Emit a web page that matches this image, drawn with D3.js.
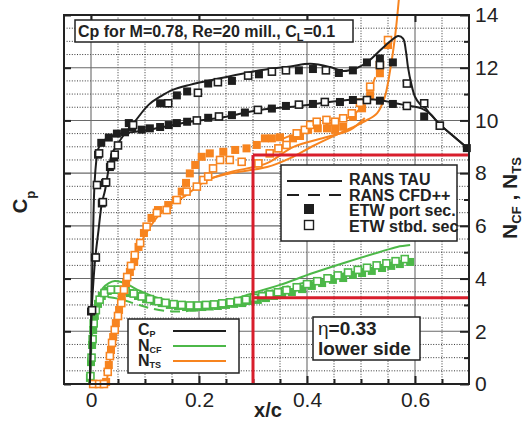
<!DOCTYPE html>
<head>
<meta charset="utf-8">
<style>
body { margin: 0; background: #fff; }
svg { font-family: "Liberation Sans", Arial, sans-serif; }
.grid-minor line { stroke: #222; stroke-dasharray: 1,1.6; stroke-width: 0.9; }
.grid-major line { stroke: #6a6a6a; stroke-width: 1.1; }
.axis path { display: none; }
.axis line { stroke: #222; stroke-width: 2; }
.axis text { font-size: 21px; fill: #222; }
.box { fill: #fff; stroke: #222; stroke-width: 1.5; }
.lbl { font-weight: bold; fill: #222; }
</style>
<script src="https://d3js.org/d3.v7.min.js"></script>
</head>
<body>
<svg width="531" height="421"></svg>
<script>

// ---- data (x/c, value) ----
var xTicks = [0, 0.2, 0.4, 0.6],
    xTickLabels = ["0", "0.2", "0.4", "0.6"],
    nTicks = [0, 2, 4, 6, 8, 10, 12, 14];

// Cp, RANS TAU (two branches)
var cpTauA = [[-0.002,1.0],[0,0.59],[0.002,0.21],[0.004,-0.17],[0.006,-0.47],[0.009,-0.66],[0.013,-0.78],
  [0.019,-0.83],[0.028,-0.86],[0.044,-0.89],[0.072,-0.91],[0.109,-0.93],[0.146,-0.96],[0.183,-0.99],
  [0.239,-1.02],[0.313,-1.08],[0.387,-1.11],[0.461,-1.15],[0.507,-1.16],[0.535,-1.155],[0.563,-1.13],
  [0.591,-1.11],[0.613,-1.09],[0.628,-1.05],[0.646,-0.97],[0.674,-0.87],[0.70,-0.78]];
var cpTauB = [[-0.002,1.0],[0.001,0.46],[0.004,0.25],[0.008,0.04],[0.014,-0.17],[0.020,-0.37],[0.026,-0.47],
  [0.033,-0.64],[0.039,-0.75],[0.048,-0.81],[0.059,-0.88],[0.079,-0.98],[0.107,-1.12],[0.128,-1.18],
  [0.150,-1.23],[0.183,-1.27],[0.239,-1.32],[0.313,-1.38],[0.369,-1.41],[0.406,-1.43],[0.443,-1.405],
  [0.467,-1.375],[0.493,-1.40],[0.511,-1.44],[0.535,-1.53],[0.554,-1.60],[0.569,-1.64],[0.578,-1.62],
  [0.583,-1.53],[0.587,-1.405],[0.593,-1.28],[0.600,-1.18],[0.609,-1.125],[0.619,-1.094],[0.628,-1.05],
  [0.646,-0.97],[0.674,-0.87],[0.70,-0.78]];
var cpPort = [[0,0.45],[0.007,0.04],[0.020,-0.37],[0.026,-0.525],[0.035,-0.646],[0.043,-0.72],[0.013,-0.74],
  [0.019,-0.83],[0.033,-0.87],[0.048,-0.90],[0.063,-0.91],[0.076,-0.95],[0.094,-0.93],[0.109,-0.94],
  [0.128,-0.95],[0.144,-0.965],[0.159,-0.98],[0.178,-0.99],[0.217,-1.02],[0.261,-1.04],[0.285,-1.06],
  [0.335,-1.09],[0.361,-1.11],[0.411,-1.125],[0.461,-1.14],[0.485,-1.155],[0.535,-1.15],[0.559,-1.125],
  [0.617,-1.03],[0.646,-0.96],[0.696,-0.79],
  [0.070,-0.98],[0.128,-1.13],[0.159,-1.19],[0.178,-1.22],[0.217,-1.28],[0.261,-1.30],[0.311,-1.35],
  [0.385,-1.38],[0.411,-1.39],[0.459,-1.36],[0.485,-1.38],[0.511,-1.44],[0.535,-1.47],[0.559,-1.44]];
var cpStbd = [[0.002,0.44],[0.009,0.04],[0.022,-0.38],[0.011,-0.51],[0.028,-0.53],[0.037,-0.66],[0.044,-0.74],
  [0.050,-0.81],[0.015,-0.75],[0.078,-0.965],[0.143,-1.13],[0.198,-1.21],[0.235,-1.29],[0.291,-1.34],
  [0.335,-1.37],[0.361,-1.38],[0.435,-1.38],[0.535,-1.42],[0.585,-1.28],[0.617,-1.13],[0.646,-0.96],
  [0.196,-1.00],[0.237,-1.03],[0.309,-1.08],[0.385,-1.12],[0.433,-1.14],[0.511,-1.155],[0.585,-1.11]];

// N_CF
var ncfTau = [[-0.004,0],[-0.002,0.34],[0,1.10],[0.002,1.86],[0.005,2.50],[0.009,3.00],[0.015,3.38],
  [0.022,3.64],[0.033,3.83],[0.044,3.91],[0.056,3.87],[0.069,3.76],[0.091,3.53],[0.115,3.32],[0.141,3.17],
  [0.170,3.07],[0.202,3.07],[0.231,3.11],[0.263,3.22],[0.294,3.41],[0.319,3.57],[0.35,3.76],[0.411,4.21],
  [0.474,4.63],[0.535,5.01],[0.567,5.20],[0.591,5.27]];
var ncfCfd = [[0.031,3.30],[0.054,3.22],[0.081,3.05],[0.109,2.88],[0.152,2.75],[0.189,2.79],[0.226,2.90],
  [0.276,3.19],[0.317,3.45],[0.369,3.72],[0.424,3.98],[0.480,4.25],[0.535,4.51],[0.591,4.74]];
var ncfPort = [[-0.002,0.23],[0,0.83],[0.002,1.48],[0.004,2.05],[0.007,2.58],[0.013,3.04],[0.020,3.34],
  [0.031,3.53],[0.044,3.57],[0.057,3.53],[0.072,3.45],[0.087,3.34],[0.102,3.22],[0.117,3.15],[0.131,3.07],
  [0.146,3.00],[0.161,2.96],[0.176,2.92],[0.191,2.90],[0.206,2.92],[0.220,2.94],[0.235,2.96],[0.250,3.00],
  [0.265,3.04],[0.280,3.07],[0.294,3.15],[0.309,3.19],[0.324,3.26],[0.339,3.34],[0.354,3.41],[0.372,3.49],
  [0.391,3.60],[0.409,3.72],[0.428,3.83],[0.448,3.95],[0.467,4.02],[0.485,4.14],[0.502,4.21],[0.520,4.29],
  [0.539,4.40],[0.556,4.48],[0.572,4.55],[0.591,4.63]];
var ncfStbd = [[-0.001,0.3],[0.001,1.0],[0.003,1.7],[0.005,2.3],[0.009,2.8],[0.016,3.2],[0.025,3.45],
  [0.037,3.58],[0.05,3.58],[0.064,3.52],[0.079,3.43],[0.094,3.32],[0.109,3.22],[0.124,3.14],[0.138,3.08],
  [0.153,3.03],[0.168,3.0],[0.183,2.98],[0.198,2.98],[0.213,3.0],[0.228,3.02],[0.243,3.06],[0.258,3.1],
  [0.272,3.15],[0.287,3.2],[0.302,3.27],[0.317,3.33],[0.331,3.4],[0.346,3.48],[0.362,3.56],[0.381,3.67],
  [0.4,3.79],[0.419,3.9],[0.438,4.01],[0.457,4.12],[0.476,4.23],[0.494,4.33],[0.511,4.41],[0.529,4.5],
  [0.547,4.58],[0.564,4.66],[0.581,4.74]];

// N_TS
var ntsTau = [[0.002,0],[0.026,0],[0.031,0.34],[0.037,1.10],[0.044,2.05],[0.054,3.07],[0.067,4.06],
  [0.081,4.89],[0.100,5.65],[0.124,6.37],[0.146,6.79],[0.174,7.13],[0.215,7.74],[0.263,8.01],[0.326,8.23],
  [0.369,8.57],[0.411,9.03],[0.461,9.52],[0.504,9.94],[0.530,10.28],[0.544,10.89],[0.554,11.91],
  [0.563,13.17],[0.570,14.57]];
var ntsTau2 = [[0.202,7.63],[0.252,8.01],[0.326,8.38],[0.374,8.99],[0.437,9.37],[0.480,9.64],[0.507,10.09]];
var ntsCfd = [[0.35,9.26],[0.406,9.71],[0.452,9.94],[0.485,10.2],[0.507,10.7],[0.52,11.3],[0.535,12.1]];
var ntsPort = [[0.007,0],[0.019,0],[0.028,0.08],[0.033,0.72],[0.037,1.29],[0.041,1.78],[0.046,2.31],
  [0.052,2.81],[0.057,3.30],[0.065,3.83],[0.072,4.25],[0.080,4.63],[0.088,5.20],[0.098,5.73],[0.112,6.30],
  [0.124,6.60],[0.143,6.79],[0.157,6.98],[0.168,7.30],[0.176,7.63],[0.183,7.99],[0.193,8.31],[0.205,8.62],
  [0.220,8.75],[0.245,8.81],[0.267,8.88],[0.288,8.94],[0.307,9.07],[0.322,9.32],[0.335,9.32],[0.350,9.36],
  [0.374,9.32],[0.387,9.41],[0.402,9.64],[0.420,9.70],[0.437,9.70],[0.452,9.64],[0.467,9.76],[0.485,10.14],
  [0.502,10.46],[0.517,10.96],[0.535,11.79],[0.550,12.86]];
var ntsStbd = [[0.004,0],[0.015,0],[0.024,0],[0.031,0.46],[0.035,1.06],[0.039,1.56],[0.044,2.05],
  [0.050,2.58],[0.056,3.07],[0.061,3.57],[0.067,4.06],[0.074,4.48],[0.081,4.89],[0.091,5.35],[0.103,5.97],
  [0.122,6.49],[0.140,6.60],[0.159,6.98],[0.177,7.30],[0.196,7.49],[0.208,7.74],[0.217,7.87],[0.226,8.18],
  [0.239,8.50],[0.257,8.50],[0.279,8.43],[0.310,8.37],[0.331,8.75],[0.347,8.94],[0.362,9.07],[0.381,9.51],
  [0.396,9.64],[0.406,9.83],[0.418,9.95],[0.436,10.02],[0.452,9.95],[0.467,10.08],[0.483,10.27],
  [0.498,10.67],[0.517,11.28],[0.535,12.10],[0.550,13.05]];

// transition markers (red)
var trX = 0.3,
    trN = [8.69, 3.27];

var legendLabels = ["RANS TAU", "RANS CFD++", "ETW port sec.", "ETW stbd. sec"];

// ---- setup ----
var svg = d3.select("svg"),
    margin = {top: 15, right: 62, bottom: 37, left: 64},
    width = svg.attr("width") - margin.left - margin.right,
    height = svg.attr("height") - margin.top - margin.bottom,
    g = svg.append("g").attr("transform", "translate(" + margin.left + "," + margin.top + ")");

var black = "#1e1e1e", green = "#4cb848", orange = "#f7841f", red = "#d81e2c";

var x = d3.scaleLinear().domain([-0.05, 0.7]).range([0, width]);
var y = d3.scaleLinear().domain([0, 14]).range([height, 0]);
var yCp = d3.scaleLinear().domain([1, -1.8]).range([height, 0]);

// grid
var minorY = d3.range(0.5, 14, 0.5).filter(function(d) { return d % 2 !== 0; }),
    majorY = d3.range(2, 14, 2),
    minorX = d3.range(1, 14).map(function(i) { return i * 0.05; })
      .filter(function(d) { return Math.abs(d / 0.2 - Math.round(d / 0.2)) > 1e-6; }),
    majorX = [0, 0.2, 0.4, 0.6];

g.append("g").attr("class", "grid-minor").selectAll("line").data(minorY).enter().append("line")
    .attr("x1", 0).attr("x2", width).attr("y1", y).attr("y2", y);
g.append("g").attr("class", "grid-minor").selectAll("line").data(minorX).enter().append("line")
    .attr("y1", 0).attr("y2", height).attr("x1", x).attr("x2", x);
g.append("g").attr("class", "grid-major").selectAll("line").data(majorY).enter().append("line")
    .attr("x1", 0).attr("x2", width).attr("y1", y).attr("y2", y);
g.append("g").attr("class", "grid-major").selectAll("line").data(majorX).enter().append("line")
    .attr("y1", 0).attr("y2", height).attr("x1", x).attr("x2", x);

// axes
g.append("g").attr("class", "axis")
    .attr("transform", "translate(" + width + ",0)")
    .call(d3.axisRight(y).tickValues(nTicks).tickSize(-9).tickPadding(6));
g.append("g").attr("class", "axis")
    .call(d3.axisLeft(y).tickValues(nTicks).tickSize(-7).tickFormat(""));
g.append("g").attr("class", "axis")
    .attr("transform", "translate(0," + height + ")")
    .call(d3.axisBottom(x).tickValues(xTicks).tickSize(-8).tickPadding(8)
      .tickFormat(function(d, i) { return xTickLabels[i]; }));
g.append("g").attr("class", "axis")
    .attr("transform", "translate(0," + height + ")")
    .call(d3.axisBottom(x).tickValues(minorX).tickSize(-5).tickFormat(""));
g.append("g").attr("class", "axis")
    .call(d3.axisTop(x).tickValues(xTicks).tickSize(-7).tickFormat(""));
g.append("g").attr("class", "axis")
    .attr("transform", "translate(" + width + ",0)")
    .call(d3.axisRight(y).tickValues(d3.range(1, 14, 2)).tickSize(-5).tickFormat(""));

// lines
var lineN = d3.line().curve(d3.curveCatmullRom.alpha(0.5))
    .x(function(d) { return x(d[0]); }).y(function(d) { return y(d[1]); });
var lineCp = d3.line().curve(d3.curveCatmullRom.alpha(0.5))
    .x(function(d) { return x(d[0]); }).y(function(d) { return yCp(d[1]); });

function addLine(data, gen, color, dash) {
  g.append("path").datum(data)
      .attr("d", gen)
      .attr("fill", "none")
      .attr("stroke", color)
      .attr("stroke-width", 2)
      .attr("stroke-dasharray", dash || null)
      .attr("stroke-linejoin", "round");
}

function addMarkers(data, yy, color, open) {
  var s = open ? 7 : 8;
  g.append("g").selectAll("rect").data(data).enter().append("rect")
      .attr("x", function(d) { return x(d[0]) - s / 2; })
      .attr("y", function(d) { return yy(d[1]) - s / 2; })
      .attr("width", s).attr("height", s)
      .attr("fill", open ? "#fff" : color)
      .attr("stroke", open ? color : "none")
      .attr("stroke-width", open ? 1.6 : 0);
}

addLine(ncfCfd, lineN, green, "10,6");
addLine(ncfTau, lineN, green);
addMarkers(ncfPort, y, green, false);
addMarkers(ncfStbd, y, green, true);

addLine(ntsCfd, lineN, orange, "10,6");
addLine(ntsTau2, lineN, orange);
addLine(ntsTau, lineN, orange);
addMarkers(ntsPort, y, orange, false);
addMarkers(ntsStbd, y, orange, true);

addLine(cpTauA, lineCp, black);
addLine(cpTauB, lineCp, black);
addMarkers(cpPort, yCp, black, false);
addMarkers(cpStbd, yCp, black, true);

// transition lines
g.append("line")
    .attr("x1", x(trX)).attr("x2", x(trX)).attr("y1", y(trN[0])).attr("y2", height)
    .attr("stroke", red).attr("stroke-width", 3);
g.selectAll(".tr").data(trN).enter().append("line")
    .attr("x1", x(trX)).attr("x2", width).attr("y1", y).attr("y2", y)
    .attr("stroke", red).attr("stroke-width", 3);

// frame
g.append("rect").attr("width", width).attr("height", height)
    .attr("fill", "none").attr("stroke", "#222").attr("stroke-width", 2);

// title box
svg.append("rect").attr("class", "box").attr("x", 75).attr("y", 20).attr("width", 278).attr("height", 22);
var title = svg.append("text").attr("class", "lbl").attr("x", 78).attr("y", 37).style("font-size", "16px");
title.append("tspan").text("Cp for M=0.78, Re=20 mill., C");
title.append("tspan").attr("dy", 4).style("font-size", "11px").text("L");
title.append("tspan").attr("dy", -4).text("=0.1");

// legend (methods)
var leg = svg.append("g").attr("transform", "translate(281,165)");
leg.append("rect").attr("class", "box").attr("width", 176).attr("height", 76);
leg.append("line").attr("x1", 6).attr("x2", 61).attr("y1", 16).attr("y2", 16)
    .attr("stroke", black).attr("stroke-width", 2);
leg.append("line").attr("x1", 6).attr("x2", 61).attr("y1", 30).attr("y2", 30)
    .attr("stroke", black).attr("stroke-width", 2).attr("stroke-dasharray", "12,9");
leg.append("rect").attr("x", 23).attr("y", 39).attr("width", 10).attr("height", 10).attr("fill", black);
leg.append("rect").attr("x", 23.5).attr("y", 55.5).attr("width", 9).attr("height", 9)
    .attr("fill", "#fff").attr("stroke", black).attr("stroke-width", 1.4);
leg.selectAll(".lt").data(legendLabels).enter().append("text")
    .attr("class", "lbl").style("font-size", "16px")
    .attr("x", 68).attr("y", function(d, i) { return 20 + i * 15.5; })
    .text(function(d) { return d; });

// legend (quantities)
var leg2 = svg.append("g").attr("transform", "translate(128,319)");
leg2.append("rect").attr("class", "box").attr("width", 111).attr("height", 54);
var qty = [{b: "C", s: "P", c: black}, {b: "N", s: "CF", c: green}, {b: "N", s: "TS", c: orange}];
qty.forEach(function(q, i) {
  var t = leg2.append("text").attr("class", "lbl").attr("x", 10).attr("y", 16 + i * 15.5)
      .style("font-size", "16px");
  t.append("tspan").text(q.b);
  t.append("tspan").attr("dy", 2).style("font-size", "9px").text(q.s);
  leg2.append("line").attr("x1", 45).attr("x2", 98)
      .attr("y1", 12 + i * 15).attr("y2", 12 + i * 15)
      .attr("stroke", q.c).attr("stroke-width", 2);
});

// station box
var st = svg.append("g").attr("transform", "translate(313,317)");
st.append("rect").attr("class", "box").attr("width", 107).attr("height", 43);
var eta = st.append("text").attr("class", "lbl").attr("x", 5).attr("y", 18).style("font-size", "19px");
eta.append("tspan").style("font-weight", "normal").text("\u03b7");
eta.append("tspan").text("=0.33");
st.append("text").attr("class", "lbl").attr("x", 5).attr("y", 38).style("font-size", "19px").text("lower side");

// axis titles
svg.append("text").attr("class", "lbl").attr("x", 268).attr("y", 417)
    .attr("text-anchor", "middle").style("font-size", "20px").text("x/c");
var cpT = svg.append("text").attr("class", "lbl")
    .attr("transform", "translate(27,202) rotate(-90)").attr("text-anchor", "middle").style("font-size", "20px");
cpT.append("tspan").text("C");
cpT.append("tspan").attr("dy", 8).style("font-size", "13px").text("p");
var nT = svg.append("text").attr("class", "lbl")
    .attr("transform", "translate(517,198) rotate(-90)").attr("text-anchor", "middle").style("font-size", "21px");
nT.append("tspan").text("N");
nT.append("tspan").attr("dy", 4).style("font-size", "13px").text("CF");
nT.append("tspan").attr("dy", -4).text(" , N");
nT.append("tspan").attr("dy", 4).style("font-size", "13px").text("TS");

</script>
</body>
</html>
